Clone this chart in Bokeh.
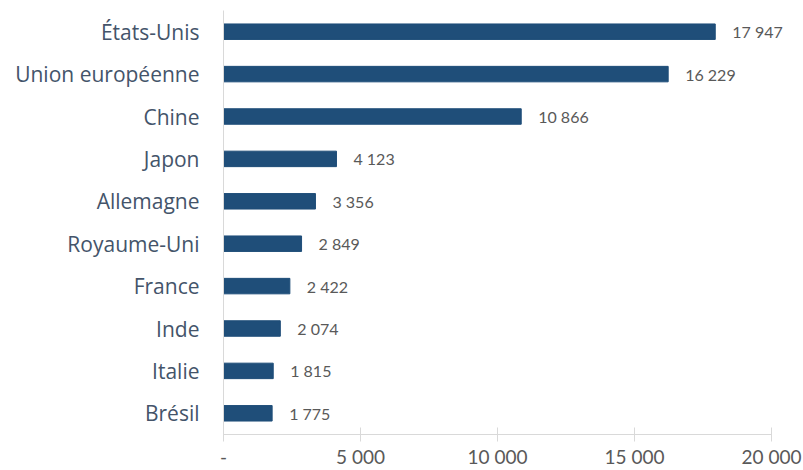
from bokeh.plotting import figure
from bokeh.models import ColumnDataSource, FixedTicker, Range1d, LabelSet
from bokeh.core.properties import value
from bokeh.embed import file_html
from bokeh.resources import INLINE

countries = ["États-Unis", "Union européenne", "Chine", "Japon", "Allemagne",
             "Royaume-Uni", "France", "Inde", "Italie", "Brésil"]
gdp = [17947, 16229, 10866, 4123, 3356, 2849, 2422, 2074, 1815, 1775]
tick_values = [0, 5000, 10000, 15000, 20000]
tick_labels = ["-", "5 000", "10 000", "15 000", "20 000"]

def fmt(v):
    return f"{v:,}".replace(",", " ")

src = ColumnDataSource(dict(country=countries, gdp=gdp, label=[fmt(v) for v in gdp]))

# frame extends a little past 20 000 so the value labels are not clipped
p = figure(y_range=list(reversed(countries)), x_range=Range1d(0, 20511),
           width=803, height=470, output_backend="svg", toolbar_location=None,
           min_border_left=223, min_border_right=18, min_border_top=10, min_border_bottom=30)
p.hbar(y="country", right="gdp", height=0.365, source=src, color="#1F4E79")
labels = LabelSet(x="gdp", y="country", text="label", source=src, x_offset=17,
                  text_baseline="middle", text_align="left", text_font=value("Lato"),
                  text_font_size="16px", text_color="#595959")
p.add_layout(labels)

p.outline_line_color = None
p.grid.visible = False
p.background_fill_color = "white"
p.border_fill_color = "white"

p.xaxis.bounds = (tick_values[0], tick_values[-1])
p.xaxis.ticker = FixedTicker(ticks=tick_values)
p.xaxis.major_label_overrides = {v: l for v, l in zip(tick_values, tick_labels)}
p.xaxis.axis_line_color = "#D9D9D9"
p.xaxis.major_tick_line_color = "#D9D9D9"
p.xaxis.major_tick_in = 7
p.xaxis.major_tick_out = 7
p.xaxis.minor_tick_line_color = None
p.xaxis.major_label_text_font = "Lato"
p.xaxis.major_label_text_font_size = "19px"
p.xaxis.major_label_text_color = "#595959"
p.xaxis.major_label_standoff = 3

p.yaxis.axis_line_color = "#D9D9D9"
p.yaxis.major_tick_line_color = None
p.yaxis.minor_tick_line_color = None
p.yaxis.major_label_text_font = "Open Sans"
p.yaxis.major_label_text_font_size = "21px"
p.yaxis.major_label_text_color = "#44546A"
p.yaxis.major_label_standoff = 18

open("out.html", "w").write(file_html(p, INLINE))
